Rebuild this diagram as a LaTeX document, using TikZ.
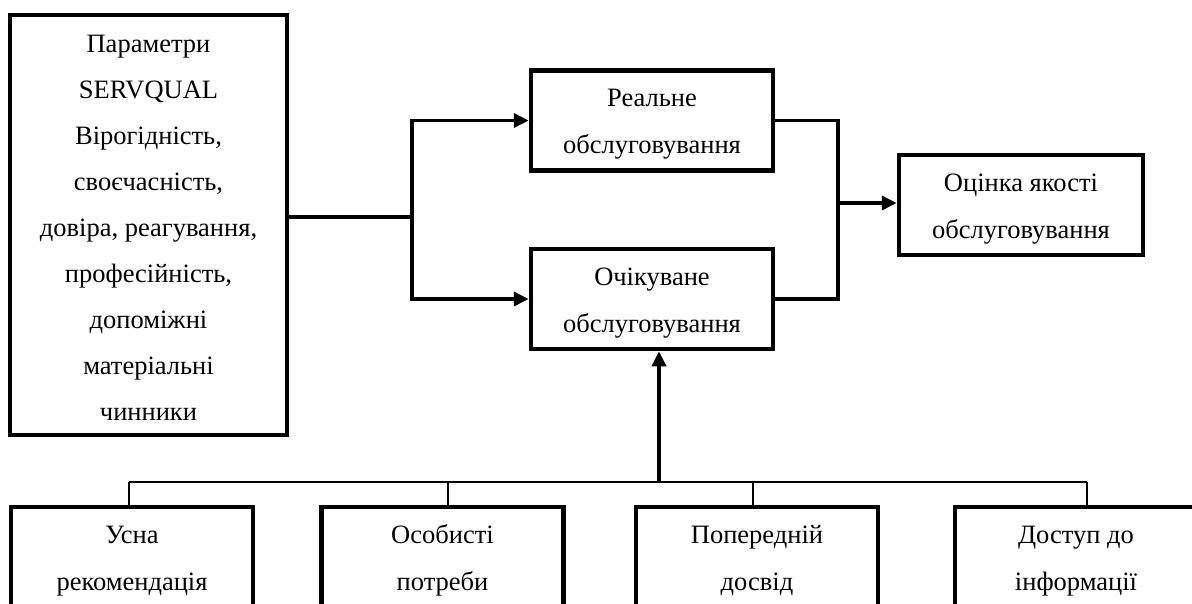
\documentclass[tikz,border=0pt]{standalone}
\usepackage{fontspec}
\setmainfont{Liberation Serif}
\usepackage{tikz}
\usetikzlibrary{arrows.meta,positioning,calc}

\begin{document}
\begin{tikzpicture}[
    x=1pt, y=-1pt,
    % Boxes
    block/.style={rectangle, draw=black, line width=4.5pt, fill=white,
        minimum width=242pt, minimum height=100pt, align=center,
        inner sep=0pt, text height=72pt, text depth=6pt,
        font=\fontsize{26.5}{47}\selectfont},
    tall/.style={minimum width=277pt, minimum height=420pt,
        text height=396pt, text depth=6pt, font=\fontsize{26.5}{46}\selectfont},
    % Arrow styles
    arrow/.style={-{Triangle[length=15pt,width=14pt]}, line width=3.5pt},
    link/.style={line width=3.5pt},
    feed/.style={line width=1.3pt}
]
    \clip (0,0) rectangle (1192,603);

    % Parameters
    \node[block, tall] (params) at (148.5,225)
        {Параметри\\SERVQUAL\\Вірогідність,\\своєчасність,\\довіра, реагування,\\професійність,\\допоміжні\\матеріальні\\чинники};

    % Service
    \node[block] (real) at (652,120.5) {Реальне\\обслуговування};
    \node[block] (expect) at (652,299) {Очікуване\\обслуговування};
    \node[block, minimum width=244pt] (score) at (1021,205) {Оцінка якості\\обслуговування};

    % Factors (bottom row)
    \node[block] (word) at (132,557) {Усна\\рекомендація};
    \node[block] (needs) at (442.5,557) {Особисті\\потреби};
    \node[block] (past) at (757,557) {Попередній\\досвід};
    \node[block] (info) at (1076,557) {Доступ до\\інформації};

    % Junction points
    \coordinate (split) at (412,217);
    \coordinate (merge) at (838,203);
    \coordinate (hub) at (659,482);
    \coordinate (t1) at (129,482);
    \coordinate (t2) at (448,482);
    \coordinate (t3) at (753,482);
    \coordinate (t4) at (1087,482);

    % Parameters to service
    \draw[link] (params.east |- split) -- (split);
    \draw[arrow] (split) |- (real.west);
    \draw[arrow] (split) |- (expect.west);

    % Service to score
    \draw[link] (real.east) -| (merge) |- (expect.east);
    \draw[arrow] (merge) -- (merge -| score.west);

    % Factors to expected service
    \draw[feed] (t1) -- (t4);
    \draw[feed] (t1) -- (t1 |- word.north);
    \draw[feed] (t2) -- (t2 |- needs.north);
    \draw[feed] (t3) -- (t3 |- past.north);
    \draw[feed] (t4) -- (t4 |- info.north);
    \draw[arrow] (hub) -- (hub |- expect.south);
\end{tikzpicture}
\end{document}
